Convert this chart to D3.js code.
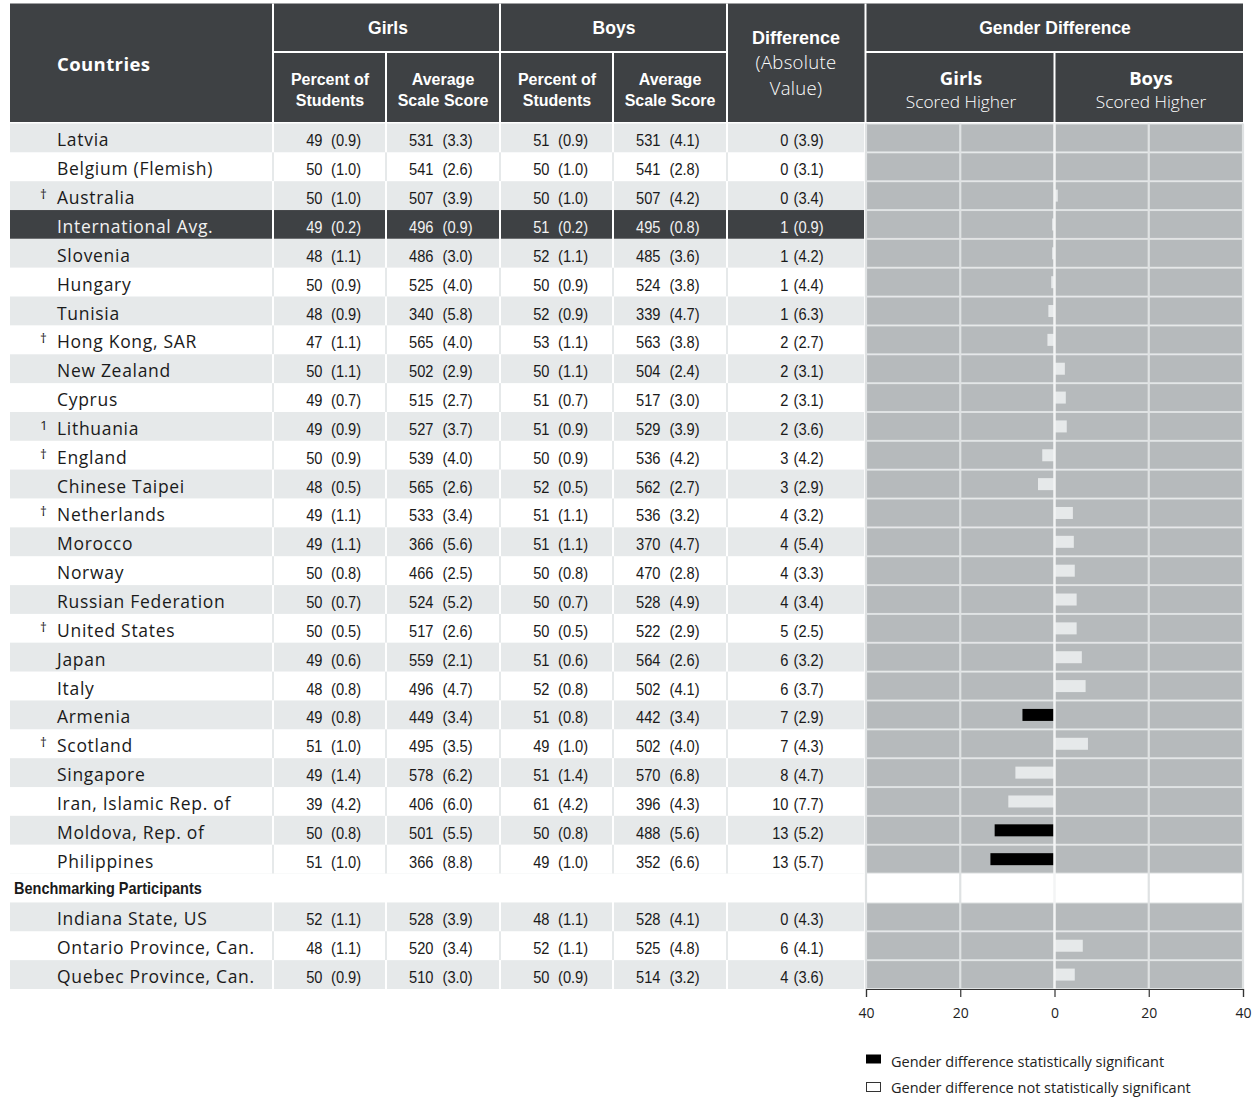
<!DOCTYPE html>
<html><head><meta charset="utf-8">
<script src="https://cdn.jsdelivr.net/npm/d3@7"></script>
<style>body{margin:0;background:#fff}</style>
</head><body><svg id="c" width="1254" height="1099"></svg>
<script>
// ---------- DATA ----------
const countries = ["Latvia","Belgium (Flemish)","Australia","International Avg.","Slovenia","Hungary","Tunisia","Hong Kong, SAR","New Zealand","Cyprus","Lithuania","England","Chinese Taipei","Netherlands","Morocco","Norway","Russian Federation","United States","Japan","Italy","Armenia","Scotland","Singapore","Iran, Islamic Rep. of","Moldova, Rep. of","Philippines"];
const marks = ["","","†","","","","","†","","","1","†","","†","","","","†","","","","†","","","",""];
const girlsPct   = [49,50,50,49,48,50,48,47,50,49,49,50,48,49,49,50,50,50,49,48,49,51,49,39,50,51];
const girlsPctSE = ["0.9","1.0","1.0","0.2","1.1","0.9","0.9","1.1","1.1","0.7","0.9","0.9","0.5","1.1","1.1","0.8","0.7","0.5","0.6","0.8","0.8","1.0","1.4","4.2","0.8","1.0"];
const girlsScore   = [531,541,507,496,486,525,340,565,502,515,527,539,565,533,366,466,524,517,559,496,449,495,578,406,501,366];
const girlsScoreSE = ["3.3","2.6","3.9","0.9","3.0","4.0","5.8","4.0","2.9","2.7","3.7","4.0","2.6","3.4","5.6","2.5","5.2","2.6","2.1","4.7","3.4","3.5","6.2","6.0","5.5","8.8"];
const boysPct   = [51,50,50,51,52,50,52,53,50,51,51,50,52,51,51,50,50,50,51,52,51,49,51,61,50,49];
const boysPctSE = ["0.9","1.0","1.0","0.2","1.1","0.9","0.9","1.1","1.1","0.7","0.9","0.9","0.5","1.1","1.1","0.8","0.7","0.5","0.6","0.8","0.8","1.0","1.4","4.2","0.8","1.0"];
const boysScore   = [531,541,507,495,485,524,339,563,504,517,529,536,562,536,370,470,528,522,564,502,442,502,570,396,488,352];
const boysScoreSE = ["4.1","2.8","4.2","0.8","3.6","3.8","4.7","3.8","2.4","3.0","3.9","4.2","2.7","3.2","4.7","2.8","4.9","2.9","2.6","4.1","3.4","4.0","6.8","4.3","5.6","6.6"];
const diffAbs   = [0,0,0,1,1,1,1,2,2,2,2,3,3,4,4,4,4,5,6,6,7,7,8,10,13,13];
const diffSE    = ["3.9","3.1","3.4","0.9","4.2","4.4","6.3","2.7","3.1","3.1","3.6","4.2","2.9","3.2","5.4","3.3","3.4","2.5","3.2","3.7","2.9","4.3","4.7","7.7","5.2","5.7"];
// signed bar length: negative = girls scored higher, positive = boys scored higher
const barValue  = [0,0,0.7,-0.5,-0.5,-0.7,-1.3,-1.5,2.2,2.4,2.6,-2.6,-3.5,3.9,4.1,4.3,4.7,4.7,5.8,6.6,-6.8,7.1,-8.3,-9.8,-12.7,-13.6];
const significant = [0,0,0,0,0,0,0,0,0,0,0,0,0,0,0,0,0,0,0,0,1,0,0,0,1,1];

const benchLabel = "Benchmarking Participants";
const benchNames = ["Indiana State, US","Ontario Province, Can.","Quebec Province, Can."];
const benchGirlsPct = [52,48,50], benchGirlsPctSE = ["1.1","1.1","0.9"];
const benchGirlsScore = [528,520,510], benchGirlsScoreSE = ["3.9","3.4","3.0"];
const benchBoysPct = [48,52,50], benchBoysPctSE = ["1.1","1.1","0.9"];
const benchBoysScore = [528,525,514], benchBoysScoreSE = ["4.1","4.8","3.2"];
const benchDiff = [0,6,4], benchDiffSE = ["4.3","4.1","3.6"];
const benchBar = [0,6.0,4.3], benchSig = [0,0,0];

const axisTicks = [-40,-20,0,20,40];
const legendLabels = ["Gender difference statistically significant","Gender difference not statistically significant"];

// ---------- STYLE ----------
const DARK = "#3e4144", LIGHT = "#e6e9ea", GRAY = "#b6babc", SEP = "#dfe2e3";
const LIB = "'Liberation Sans',Arial,sans-serif";
const SANS = "'Open Sans','Noto Sans',sans-serif";

const svg = d3.select("#c");

// condensed text helper (horizontal squeeze)
function ctext(g, t, xx, yy, size, opts={}){
  const sx = opts.sx ?? 0.9;
  return g.append("text").attr("transform",`translate(${xx},${yy}) scale(${sx},1)`)
    .attr("font-family",LIB).attr("font-size",size).attr("font-weight",opts.weight||400)
    .attr("text-anchor",opts.anchor||"start").attr("fill",opts.fill||"#1a1a1a").text(t);
}

// build rows
const rows = [];
countries.forEach((c,i)=>rows.push({slot:i,name:c,mark:marks[i],
  vals:[[girlsPct[i],girlsPctSE[i]],[girlsScore[i],girlsScoreSE[i]],[boysPct[i],boysPctSE[i]],[boysScore[i],boysScoreSE[i]],[diffAbs[i],diffSE[i]]],
  bar:barValue[i], sig:significant[i], kind: i===3 ? "dark" : (i%2===0 ? "shade" : "white")}));
benchNames.forEach((c,i)=>rows.push({slot:27+i,name:c,mark:"",
  vals:[[benchGirlsPct[i],benchGirlsPctSE[i]],[benchGirlsScore[i],benchGirlsScoreSE[i]],[benchBoysPct[i],benchBoysPctSE[i]],[benchBoysScore[i],benchBoysScoreSE[i]],[benchDiff[i],benchDiffSE[i]]],
  bar:benchBar[i], sig:benchSig[i], kind: i%2===0 ? "shade" : "white"}));

const y = d3.scaleBand().domain(d3.range(30)).range([123.5, 989]);
const x = d3.scaleLinear().domain([-40,40]).range([866,1243]);
const colEdges = [10,273,386,500,613,727,864];
const valEnd = [322.5,433.5,549.5,660.5,788.5];
const seStart = [331,442.5,558,669.5,793.5];

// ---------- HEADER ----------
const H = svg.append("g");
H.append("rect").attr("x",10).attr("y",3.5).attr("width",1233).attr("height",118.5).attr("fill",DARK);
const wl = (x1,y1,x2,y2)=>H.append("line").attr("x1",x1).attr("y1",y1).attr("x2",x2).attr("y2",y2).attr("stroke","#fff").attr("stroke-width",2);
[273,500,727,865.5].forEach(v=>wl(v,3.5,v,122));
[386,613,1054.5].forEach(v=>wl(v,52,v,122));
wl(273,52,727,52); wl(865.5,52,1243,52);
const ht = (t,xx,yy,fam,size,weight,anchor="middle",ls=0)=>H.append("text").attr("x",xx).attr("y",yy).attr("fill","#fff")
  .attr("font-family",fam).attr("font-size",size).attr("font-weight",weight).attr("text-anchor",anchor)
  .attr("letter-spacing",ls).text(t);
ht("Countries",57,71,SANS,18.5,700,"start",0.4);
ht("Girls",388,34,LIB,17.5,700);
ht("Boys",614,34,LIB,17.5,700);
ht("Gender Difference",1055,34,LIB,17.5,700);
[330,557].forEach(cx=>{ht("Percent of",cx,85,LIB,16,700);ht("Students",cx,106,LIB,16,700);});
[443,670].forEach(cx=>{ht("Average",cx,85,LIB,16,700);ht("Scale Score",cx,106,LIB,16,700);});
ht("Difference",796,44,LIB,18,700);
ht("(Absolute",796,69,SANS,18.5,300,"middle",0.3);
ht("Value)",796,95,SANS,18.5,300,"middle",0.3);
ht("Girls",961,85,SANS,18.5,700); ht("Scored Higher",961,108,SANS,17.3,300);
ht("Boys",1151,85,SANS,18.5,700); ht("Scored Higher",1151,108,SANS,17.3,300);

// ---------- TABLE ROWS ----------
const T = svg.append("g");
rows.forEach(r=>{
  const top = y(r.slot), h = y.bandwidth();
  const bg = r.kind==="white" ? LIGHT : "#fff";
  const fill = r.kind==="dark" ? DARK : (r.kind==="shade" ? LIGHT : "#fff");
  T.append("rect").attr("x",10).attr("y",top).attr("width",854).attr("height",h).attr("fill",bg);
  for(let c=0;c<6;c++){
    const x0 = colEdges[c] + (c===0?0:1), x1 = colEdges[c+1] - (c===5?0:1);
    T.append("rect").attr("x",x0).attr("y",top).attr("width",x1-x0).attr("height",h).attr("fill",fill);
  }
  const col = r.kind==="dark" ? "#f2f2f2" : "#1a1a1a";
  const by = top + h/2 + 8.5;
  if(r.mark) T.append("text").attr("x",40).attr("y",by-5).attr("font-family",SANS).attr("font-size",13.5).attr("fill",col).text(r.mark);
  T.append("text").attr("x",57).attr("y",by).attr("font-family",SANS).attr("font-size",17.5).attr("letter-spacing",0.7).attr("fill",col).text(r.name);
  r.vals.forEach((v,k)=>{
    ctext(T, v[0], valEnd[k], by, 16.3, {anchor:"end", fill:col});
    ctext(T, "("+v[1]+")", seStart[k], by, 16.3, {fill:col});
  });
});
ctext(T, benchLabel, 14, y(26)+y.bandwidth()/2+6, 16.5, {weight:700, sx:0.88});

// ---------- BAR PANEL ----------
const B = svg.append("g");
rows.forEach(r=>{
  const top = y(r.slot), h = y.bandwidth();
  B.append("rect").attr("x",x(-40)).attr("y",top).attr("width",x(40)-x(-40)).attr("height",h).attr("fill",SEP);
  B.append("rect").attr("x",x(-40)).attr("y",top+1).attr("width",x(40)-x(-40)).attr("height",h-2).attr("fill",GRAY);
});
B.selectAll("rect.bar").data(rows.filter(r=>r.bar!==0)).join("rect").attr("class","bar")
  .attr("x",d=>Math.min(x(0),x(d.bar))).attr("width",d=>Math.abs(x(d.bar)-x(0)))
  .attr("y",d=>y(d.slot)+y.bandwidth()/2-6).attr("height",12)
  .attr("fill",d=>d.sig? "#000" : LIGHT);
axisTicks.forEach(t=>{
  B.append("line").attr("x1",x(t)).attr("x2",x(t)).attr("y1",123.5).attr("y2",989)
    .attr("stroke", t===0 ? "#f3f4f5" : SEP).attr("stroke-width", t===0 ? 2.5 : 2.2);
});
const ax = svg.append("g").attr("transform","translate(0,989)")
  .call(d3.axisBottom(x).tickValues(axisTicks).tickSize(8).tickFormat(d=>Math.abs(d)));
ax.select(".domain").attr("stroke","#333").attr("stroke-width",1.2);
ax.selectAll(".tick line").attr("stroke","#333").attr("stroke-width",1.2);
ax.selectAll(".tick text").attr("font-family",SANS).attr("font-size",14).attr("fill","#222").attr("dy","1.25em");

// ---------- LEGEND ----------
const L = svg.append("g");
L.append("rect").attr("x",866).attr("y",1054.5).attr("width",15).attr("height",9).attr("fill","#000");
L.append("rect").attr("x",866.5).attr("y",1082.5).attr("width",14).attr("height",9).attr("fill","#fff").attr("stroke","#333").attr("stroke-width",1);
legendLabels.forEach((t,i)=>L.append("text").attr("x",891).attr("y",1066.5+i*26).attr("font-family",SANS).attr("font-size",14.5).attr("fill","#222").text(t));
</script></body></html>
